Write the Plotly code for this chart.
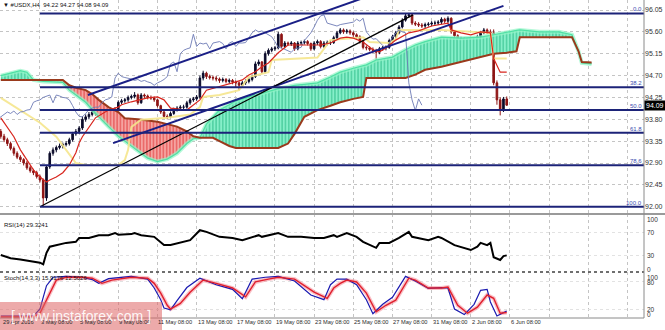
import plotly.graph_objects as go
from plotly.subplots import make_subplots

# ---------------- data ----------------
bars = list(range(156))
opens = [93.55,93.45,93.38,93.30,93.20,93.10,93.02,92.97,92.90,92.80,92.74,92.70,92.62,92.55,92.18,92.82,93.10,93.17,93.22,93.25,
         93.28,93.30,93.38,93.50,93.55,93.62,93.80,93.85,93.90,93.95,93.92,93.97,93.90,93.95,93.96,93.99,94.00,94.15,94.18,94.20,
         94.25,94.27,94.30,94.14,94.30,94.28,94.25,94.24,94.20,94.08,93.95,93.86,93.85,93.92,94.00,94.03,94.05,94.05,94.14,94.20,
         94.22,94.26,94.65,94.75,94.68,94.66,94.65,94.63,94.60,94.62,94.58,94.60,94.57,94.55,94.50,94.55,94.58,94.62,94.68,94.94,
         94.98,94.78,95.15,95.22,95.25,95.27,95.55,95.30,95.37,95.35,95.37,95.25,95.37,95.38,95.40,95.36,95.25,95.37,95.40,95.30,
         95.37,95.37,95.38,95.48,95.58,95.64,95.60,95.62,95.58,95.54,95.50,95.40,95.28,95.27,95.24,95.22,95.18,95.25,95.27,95.28,
         95.42,95.50,95.58,95.70,95.84,95.93,95.95,95.78,95.76,95.74,95.72,95.75,95.76,95.78,95.78,95.80,95.86,95.82,95.88,95.60,
         95.52,95.45,95.46,95.38,95.32,95.26,95.35,95.50,95.58,95.64,95.60,95.58,94.55,94.20,93.98,94.22]
highs = [93.60,93.50,93.42,93.34,93.24,93.14,93.06,93.00,92.94,92.84,92.78,92.74,92.66,92.58,92.86,93.14,93.22,93.26,93.30,93.32,
         93.35,93.42,93.54,93.60,93.66,93.86,93.90,93.95,94.00,93.99,94.02,94.00,93.99,94.00,94.03,94.05,94.19,94.22,94.24,94.29,
         94.31,94.36,94.33,94.34,94.33,94.31,94.29,94.27,94.22,94.10,93.98,93.90,93.96,94.04,94.07,94.09,94.10,94.18,94.24,94.26,
         94.30,94.70,94.80,94.78,94.72,94.70,94.69,94.66,94.66,94.65,94.64,94.63,94.60,94.58,94.59,94.62,94.66,94.72,94.99,95.03,
         95.00,95.20,95.26,95.29,95.31,95.60,95.57,95.41,95.40,95.41,95.39,95.41,95.42,95.44,95.43,95.38,95.41,95.44,95.43,95.41,
         95.42,95.43,95.52,95.62,95.68,95.67,95.66,95.65,95.61,95.57,95.53,95.43,95.32,95.30,95.28,95.25,95.29,95.31,95.32,95.46,
         95.54,95.62,95.74,95.88,95.97,95.99,95.97,95.82,95.80,95.78,95.79,95.80,95.82,95.83,95.84,95.90,95.89,95.92,95.90,95.63,
         95.55,95.50,95.49,95.41,95.35,95.39,95.54,95.62,95.68,95.67,95.65,95.65,94.60,94.25,94.26,94.27]
lows = [93.40,93.33,93.25,93.16,93.05,92.98,92.92,92.85,92.76,92.70,92.65,92.58,92.50,91.99,92.12,92.78,93.05,93.12,93.18,93.20,
        93.24,93.26,93.34,93.46,93.50,93.58,93.75,93.80,93.86,93.87,93.88,93.82,93.86,93.90,93.92,93.94,93.97,94.11,94.14,94.16,
        94.21,94.23,94.10,94.12,94.24,94.21,94.20,94.16,94.04,93.91,93.82,93.80,93.82,93.89,93.96,93.99,94.00,94.02,94.10,94.16,
        94.18,94.22,94.60,94.63,94.62,94.60,94.58,94.55,94.56,94.54,94.54,94.52,94.46,94.40,94.46,94.51,94.54,94.58,94.65,94.90,
        94.74,94.75,95.11,95.18,95.21,95.24,95.26,95.26,95.31,95.31,95.21,95.22,95.33,95.34,95.32,95.21,95.22,95.33,95.26,95.27,
        95.32,95.33,95.35,95.45,95.55,95.56,95.56,95.54,95.50,95.46,95.36,95.24,95.22,95.20,95.17,95.00,95.14,95.21,95.22,95.25,
        95.38,95.46,95.55,95.67,95.81,95.89,95.74,95.72,95.70,95.68,95.68,95.71,95.72,95.73,95.74,95.76,95.78,95.78,95.56,95.48,
        95.41,95.41,95.34,95.28,95.22,95.22,95.32,95.46,95.55,95.56,95.54,94.50,94.10,93.88,93.95,94.08]
closes = [93.45,93.38,93.30,93.20,93.10,93.02,92.97,92.90,92.80,92.74,92.70,92.62,92.55,92.18,92.82,93.10,93.17,93.22,93.25,93.28,
          93.30,93.38,93.50,93.55,93.62,93.80,93.85,93.90,93.95,93.92,93.97,93.90,93.95,93.96,93.99,94.00,94.15,94.18,94.20,94.25,
          94.27,94.30,94.14,94.30,94.28,94.25,94.24,94.20,94.08,93.95,93.86,93.85,93.92,94.00,94.03,94.05,94.05,94.14,94.20,94.22,
          94.26,94.65,94.75,94.68,94.66,94.65,94.63,94.60,94.62,94.58,94.60,94.57,94.55,94.50,94.55,94.58,94.62,94.68,94.94,94.98,
          94.78,95.15,95.22,95.25,95.27,95.55,95.30,95.37,95.35,95.37,95.25,95.37,95.38,95.40,95.36,95.25,95.37,95.40,95.30,95.37,
          95.37,95.38,95.48,95.58,95.64,95.60,95.62,95.58,95.54,95.50,95.40,95.28,95.27,95.24,95.22,95.18,95.25,95.27,95.28,95.42,
          95.50,95.58,95.70,95.84,95.93,95.95,95.78,95.76,95.74,95.72,95.75,95.76,95.78,95.78,95.80,95.86,95.82,95.88,95.60,95.52,
          95.45,95.46,95.38,95.32,95.26,95.35,95.50,95.58,95.64,95.60,95.58,94.55,94.20,93.98,94.22,94.09]

tenkan_bars = [0,2,4,6,8,10,12,14,15,17,19,21,23,24,25,27,29,33,36,37,40,45,48,50,52,57,61,63,67,71,74,76,78,80,82,85,88,98,
               101,104,106,108,111,114,116,118,121,125,128,132,137,138,141,144,147,150,151,152,153,155]
tenkan_vals = [93.83,93.64,93.44,93.17,92.96,92.76,92.61,92.51,92.55,92.61,92.70,92.86,93.11,93.31,93.44,93.64,93.83,93.99,94.05,
               94.10,94.16,94.24,94.26,94.20,94.03,93.99,94.20,94.40,94.47,94.55,94.61,94.71,94.78,94.88,94.96,95.17,95.33,95.33,
               95.37,95.47,95.49,95.47,95.39,95.23,95.19,95.27,95.43,95.58,95.62,95.72,95.78,95.64,95.58,95.54,95.60,95.58,95.05,
               94.90,94.77,94.77]
kijun_bars = [0,6,12,17,20,23,26,36,38,39,40,43,51,58,61,62,67,73,76,82,83,97,101,111,113,119,121,122,135,145,150,151,155]
kijun_vals = [94.24,93.99,93.73,93.44,93.17,92.90,92.86,92.86,92.96,93.17,93.64,93.79,93.83,93.90,94.05,94.26,94.30,94.40,94.67,
              94.77,95.02,95.07,95.43,95.49,95.39,95.37,95.45,95.64,95.64,95.60,95.58,95.05,95.05]

cloud_bars = [0,3,6,8,10,13,16,19,21,23,26,28,30,33,36,38,42,45,48,51,54,57,59,61,63,65,67,70,72,76,80,85,88,90,93,97,101,104,
              108,111,112,115,120,124,127,130,135,141,147,151,155,158,159,165,171,175,177,178,181]
span_a = [94.70,94.75,94.80,94.77,94.61,94.58,94.57,94.56,94.40,94.30,94.15,94.00,93.85,93.65,93.45,93.35,93.15,93.00,92.93,92.98,
          93.10,93.30,93.40,93.42,93.70,93.85,93.99,94.10,94.18,94.26,94.34,94.43,94.47,94.50,94.52,94.55,94.67,94.77,94.85,94.90,
          94.92,95.02,95.08,95.23,95.33,95.40,95.49,95.47,95.49,95.54,95.60,95.63,95.64,95.60,95.60,95.54,95.20,94.96,94.94]
span_b = [94.61,94.61,94.61,94.61,94.61,94.61,94.61,94.61,94.50,94.45,94.40,94.32,94.20,94.05,93.95,93.82,93.80,93.78,93.75,93.70,
          93.65,93.55,93.45,93.42,93.42,93.42,93.35,93.25,93.21,93.21,93.21,93.21,93.30,93.50,93.85,93.99,94.08,94.15,94.22,94.26,
          94.65,94.65,94.65,94.65,94.72,94.82,94.88,94.98,95.07,95.15,95.17,95.20,95.49,95.49,95.49,95.49,95.20,94.98,94.97]
chikou_shift = 26

rsi_bars = [0,3,6,9,11,12,13,14,15,17,20,23,24,27,30,33,35,36,40,41,43,47,50,52,55,58,61,63,67,71,74,79,80,85,88,92,96,99,102,
            103,106,109,111,113,115,116,119,122,125,126,128,131,134,135,139,142,144,146,147,149,150,151,152,153,154,155]
rsi_vals = [30,24,22,19,17,16,13,34,45,48,52,54,61,61,66,66,70,67,68,70,66,63,48,48,52,57,75,72,63,61,57,66,63,70,63,63,61,61,66,
            63,70,63,54,48,43,52,52,61,72,63,61,57,63,61,48,43,39,45,52,48,52,26,24,21,28,29.3]

stoch_main_bars = [0,10,12,14,16,20,25,28,30,33,40,45,47,49,50,52,54,57,61,66,71,74,77,81,85,90,95,99,101,103,106,109,112,114,
                   117,120,124,127,131,135,137,139,142,145,147,149,150,152,155]
stoch_main_vals = [5,5,20,70,88,90,88,83,75,85,90,84,65,40,22,18,38,66,86,72,62,42,84,88,90,80,50,40,72,84,84,72,40,10,30,45,90,
                   80,64,66,65,20,8,30,60,62,35,5,15.9]
stoch_sig_bars = [0,10,12,15,17,20,25,28,31,34,40,45,47,49,51,52,55,58,62,66,71,75,78,82,85,90,96,100,102,104,106,109,112,115,
                  118,121,125,127,131,135,137,140,143,146,149,151,153,155]
stoch_sig_vals = [3,3,11,54,82,88,88,86,75,82,88,86,75,54,28,20,32,56,82,75,65,46,78,84,88,84,56,43,65,75,82,78,54,14,28,39,86,
                  82,65,65,67,28,11,24,50,43,11,12.5]

fib_levels = [0.0, 38.2, 50.0, 61.8, 78.6, 100.0]
fib_high, fib_low, fib_start = 95.98, 92.00, 12

upper_ch_bars, upper_ch_prices = [26.7, 115.0], [94.30, 96.39]
lower_ch_bars, lower_ch_prices = [34.4, 154.0], [93.31, 96.135]
black_bars, black_prices = [12.0, 126.3], [92.00, 95.95]

price_ticks = [96.05, 95.60, 95.15, 94.70, 94.25, 93.80, 93.35, 92.90, 92.45, 92.00]
grid_bars = list(range(0, 197, 12))
date_bars = [0, 12, 24, 36, 48, 60, 72, 84, 96, 108, 120, 132, 144, 156]
date_labels = ["29 Apr 2016", "3 May 08:00", "5 May 08:00", "9 May 08:00", "11 May 08:00", "13 May 08:00",
               "17 May 08:00", "19 May 08:00", "23 May 08:00", "25 May 08:00", "27 May 08:00", "31 May 08:00",
               "2 Jun 08:00", "6 Jun 08:00"]
last_price = 94.09

# ---------------- layout helpers ----------------
PW, PH = 644, 318
def pxx(p): return p / PW
def pxy(p): return 1 - p / PH

FONT = "Liberation Sans, Arial, sans-serif"
fig = make_subplots(rows=3, cols=1, shared_xaxes=True, vertical_spacing=0)

# cloud (hatched)
segs, s = [], 0
for i in range(1, len(cloud_bars)):
    if span_a[i] == span_b[i] or i == len(cloud_bars) - 1:
        segs.append((s, i)); s = i
for s, e in segs:
    xs = cloud_bars[s:e + 1]; a = span_a[s:e + 1]; b = span_b[s:e + 1]
    green = sum(a) >= sum(b)
    fg = "#17b079" if green else "#dc2626"
    bg = "#86efc9" if green else "#f5a3a0"
    fig.add_trace(go.Scatter(x=xs + xs[::-1], y=a + b[::-1], mode="lines", line=dict(width=0),
                             fill="toself", fillcolor=bg,
                             fillpattern=dict(shape="|", size=3.3, solidity=0.45, fgcolor=fg, bgcolor=bg),
                             hoverinfo="skip"), row=1, col=1)

fig.add_trace(go.Scatter(x=cloud_bars, y=span_a, mode="lines", line=dict(color="rgba(150,245,200,0.7)", width=4)), row=1, col=1)
fig.add_trace(go.Scatter(x=cloud_bars, y=span_a, mode="lines", line=dict(color="#4fe0a5", width=1.2)), row=1, col=1)
fig.add_trace(go.Scatter(x=cloud_bars, y=span_b, mode="lines", line=dict(color="#9a3a1c", width=2)), row=1, col=1)
fig.add_trace(go.Scatter(x=kijun_bars, y=kijun_vals, mode="lines", line=dict(color="rgba(245,230,140,0.9)", width=2)), row=1, col=1)
fig.add_trace(go.Scatter(x=[b - chikou_shift for b in bars], y=closes, mode="lines",
                         line=dict(color="#6d7bb5", width=0.9)), row=1, col=1)
fig.add_trace(go.Scatter(x=tenkan_bars, y=tenkan_vals, mode="lines", line=dict(color="#d8261e", width=1.2)), row=1, col=1)

fig.add_trace(go.Candlestick(x=bars, open=opens, high=highs, low=lows, close=closes,
                             increasing=dict(line=dict(color="#0b0b2a", width=1), fillcolor="#0b0b2a"),
                             decreasing=dict(line=dict(color="#8e1414", width=1), fillcolor="#8e1414"),
                             whiskerwidth=0, hoverinfo="skip"), row=1, col=1)

for bx, by, col, w in [(upper_ch_bars, upper_ch_prices, "#1a1f86", 2), (lower_ch_bars, lower_ch_prices, "#1a1f86", 2),
                       (black_bars, black_prices, "#000000", 1.3)]:
    fig.add_trace(go.Scatter(x=bx, y=by, mode="lines", line=dict(color=col, width=w)), row=1, col=1)

# RSI
fig.add_trace(go.Scatter(x=rsi_bars, y=rsi_vals, mode="lines", line=dict(color="#000000", width=2)), row=2, col=1)
# Stochastic
fig.add_trace(go.Scatter(x=stoch_sig_bars, y=stoch_sig_vals, mode="lines",
                         line=dict(color="rgba(245,150,160,0.6)", width=4)), row=3, col=1)
fig.add_trace(go.Scatter(x=stoch_main_bars, y=stoch_main_vals, mode="lines", line=dict(color="#1a1ab0", width=1.2)), row=3, col=1)
fig.add_trace(go.Scatter(x=stoch_sig_bars, y=stoch_sig_vals, mode="lines", line=dict(color="#e0202e", width=1.4)), row=3, col=1)

XR = [-0.245, PW / 3.264 - 0.245]
for ax in ["xaxis", "xaxis2", "xaxis3"]:
    fig.layout[ax].update(range=XR, tickvals=grid_bars, showticklabels=False, ticks="", showgrid=True,
                          gridcolor="#c4c4c4", griddash="dot", gridwidth=1, zeroline=False, showline=False,
                          rangeslider=dict(visible=False))

fig.update_layout(
    width=665, height=330, margin=dict(l=0, r=21, t=0, b=12, pad=0),
    paper_bgcolor="white", plot_bgcolor="white", showlegend=False,
    yaxis=dict(domain=[pxy(214), 1], range=[91.85, 96.256], side="right", tickvals=price_ticks,
               ticktext=[f"{v:.2f}" for v in price_ticks], ticks="", showgrid=True, gridcolor="#c4c4c4",
               griddash="dot", zeroline=False, tickfont=dict(family=FONT, size=7, color="#333333")),
    yaxis2=dict(domain=[pxy(272), pxy(214)], range=[-0.9, 104.5], side="right", tickvals=[30, 70],
                showticklabels=False, ticks="", showgrid=True, gridcolor="#e2e2e2", griddash="dot", zeroline=False),
    yaxis3=dict(domain=[0, pxy(272)], range=[0.7, 99.3], side="right", tickvals=[20, 80],
                showticklabels=False, ticks="", showgrid=True, gridcolor="#e2e2e2", griddash="dot", zeroline=False),
)

shapes = []
for lv in fib_levels:
    p = fib_high - (fib_high - fib_low) * lv / 100
    shapes.append(dict(type="line", xref="x", yref="y", x0=fib_start, x1=XR[1], y0=p, y1=p,
                       line=dict(color="#1c2378", width=2)))
shapes += [
    dict(type="line", xref="paper", yref="paper", x0=0, x1=665 / PW, y0=pxy(214), y1=pxy(214),
         line=dict(color="#9a9a9a", width=2)),
    dict(type="line", xref="paper", yref="paper", x0=0, x1=1, y0=pxy(272), y1=pxy(272),
         line=dict(color="#404040", width=1.5, dash="dot")),
    dict(type="line", xref="paper", yref="paper", x0=1, x1=1, y0=0, y1=1, line=dict(color="#8a8a8a", width=1)),
    dict(type="line", xref="paper", yref="paper", x0=0, x1=1, y0=0, y1=0, line=dict(color="#8a8a8a", width=1)),
    dict(type="rect", xref="paper", yref="paper", x0=0, x1=pxx(162), y0=pxy(330), y1=pxy(302),
         fillcolor="rgba(222,100,100,0.55)", line=dict(width=0), layer="above"),
]
fig.update_layout(shapes=shapes)

ann = []
def txt(x, y, t, size=6, color="#111111", xanchor="left", yanchor="middle", xref="paper", yref="paper", **kw):
    ann.append(dict(x=x, y=y, text=t, xref=xref, yref=yref, xanchor=xanchor, yanchor=yanchor, showarrow=False,
                    borderpad=0, font=dict(family=FONT, size=size, color=color), **kw))

txt(pxx(2), pxy(5), "\u25bc #USDX,H4  94.22 94.27 94.08 94.09", size=6)
txt(pxx(3), pxy(225), "RSI(14) 29.3241", size=6)
txt(pxx(3), pxy(278), "Stoch(14,3,3) 15.9176 12.5026", size=6)
for b, lab in zip(date_bars, date_labels):
    txt(b if b else 0.5, pxy(322), lab, size=5.7, color="#2a2a2a", xref="x")
for lv in fib_levels:
    p = fib_high - (fib_high - fib_low) * lv / 100
    txt(pxx(643), p, f"{lv:.1f}", size=6, color="#3b4db0", xanchor="right", yanchor="bottom", yref="y")
for v, py in zip([100, 70, 30, 0], [219, 233, 255, 269]):
    txt(pxx(646), pxy(py), str(v), size=6.5, color="#333333")
for v, py in zip([100, 80, 20, 0], [277, 282, 309, 314]):
    txt(pxx(646), pxy(py), str(v), size=6.5, color="#333333")
ann.append(dict(x=1, y=last_price, xref="paper", yref="y", xanchor="left", yanchor="middle", showarrow=False,
                text=f"{last_price:.2f}", bgcolor="#000000", borderpad=1,
                font=dict(family=FONT, size=7, color="#ffffff")))
txt(pxx(81), pxy(316), "[ www.instaforex.com ]", size=14, color="rgba(255,255,255,0.92)", xanchor="center")
fig.update_layout(annotations=ann)

fig.write_html("out.html", config={"displayModeBar": False})
